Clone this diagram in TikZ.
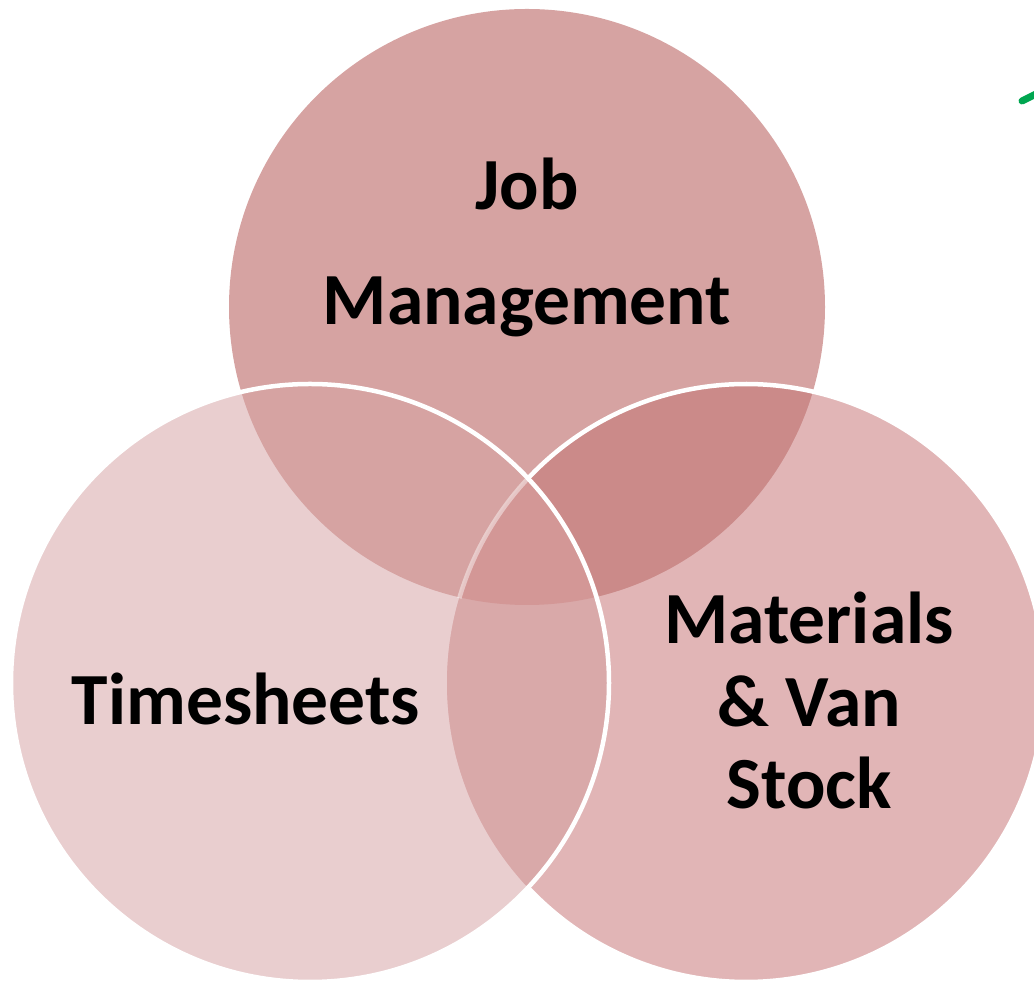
\documentclass[tikz,border=0pt]{standalone}
\usepackage{fontspec}
\setmainfont{Carlito}
\definecolor{leftonly}{HTML}{E9CECF}
\definecolor{rightonly}{HTML}{E1B5B6}
\definecolor{toponly}{HTML}{D6A3A2}
\definecolor{topright}{HTML}{CB8A89}
\definecolor{leftright}{HTML}{D9A9A9}
\definecolor{center}{HTML}{D39796}
\definecolor{markgreen}{HTML}{00A650}
\tikzset{
  lbl/.style={font=\bfseries\fontsize{73.5}{82.5}\selectfont, text=black, inner sep=0pt, align=center, anchor=base},
  rim/.style={draw=white, line width=4.5pt}
}
\begin{document}
\begin{tikzpicture}[x=1pt,y=1pt]
\useasboundingbox (0,0) rectangle (1034,982);
\coordinate (T) at (527,675);
\coordinate (L) at (310,299);
\coordinate (R) at (746,299);
% base fills
\fill[leftonly] (L) circle (299);
\fill[rightonly] (R) circle (299);
\fill[toponly] (T) circle (298);
% overlaps
\begin{scope}
  \clip (T) circle (298);
  \fill[topright] (R) circle (299);
\end{scope}
\begin{scope}
  \clip (L) circle (299);
  \fill[leftright] (R) circle (299);
\end{scope}
\begin{scope}
  \clip (T) circle (298);
  \clip (L) circle (299);
  \fill[center] (R) circle (299);
\end{scope}
% outlines
\draw[draw=white, draw opacity=0.45, line width=4.5pt] ([shift={(136.82:299)}]R) arc[start angle=136.82, end angle=163.52, radius=299];
\draw[rim] ([shift={(-136.82:299)}]R) arc[start angle=-136.82, end angle=136.82, radius=299];
\draw[rim] (L) circle (299);
% green mark
\draw[markgreen, line width=7pt, line cap=round] (1022,881) -- (1038,889);
% labels
\node[lbl] (job) at (527,657) {Job\\[33pt]Management};
\node[lbl] (time) at (246,257) {Timesheets};
\node[lbl] (mat) at (809,173) {Materials\\\& Van\\Stock};
\end{tikzpicture}
\end{document}
